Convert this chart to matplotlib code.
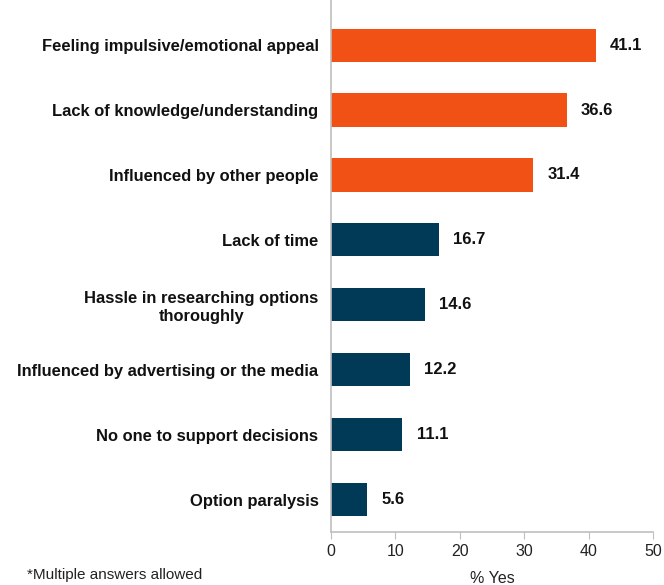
import matplotlib.pyplot as plt

plt.rcParams['font.family'] = ['Liberation Sans', 'DejaVu Sans']

reasons = [
    "Feeling impulsive/emotional appeal",
    "Lack of knowledge/understanding",
    "Influenced by other people",
    "Lack of time",
    "Hassle in researching options\nthoroughly",
    "Influenced by advertising or the media",
    "No one to support decisions",
    "Option paralysis",
]
pct_yes = [41.1, 36.6, 31.4, 16.7, 14.6, 12.2, 11.1, 5.6]
top_three = 3

orange = "#F15114"
navy = "#003A57"
grey = "#BFBFBF"

fig = plt.figure(figsize=(6.64, 5.85), dpi=100)
ax = fig.add_axes([331 / 664, 1 - 532 / 585, 322 / 664, 532 / 585])

ypos = list(range(len(reasons)))
colors = [orange if i < top_three else navy for i in ypos]
ax.barh(ypos, pct_yes, height=0.51, color=colors)

for y, v in zip(ypos, pct_yes):
    ax.text(v + 2.2, y, f"{v:.1f}", va="center", ha="left",
            fontsize=12, fontweight="bold", color="#111111")

# leave a little room above the first bar, the left axis runs to the top
ax.set_ylim(len(reasons) - 0.5, -0.695)
ax.set_xlim(0, 50)
ax.set_xticks([0, 10, 20, 30, 40, 50])
ax.set_yticks(ypos)
ax.set_yticklabels(reasons, fontsize=11.9, fontweight="bold", color="#111111",
                   multialignment="center")
ax.tick_params(axis="y", length=0, pad=9)
ax.tick_params(axis="x", direction="out", length=5, color=grey,
               labelsize=11.5, labelcolor="#222222", pad=4)

for side in ("top", "right"):
    ax.spines[side].set_visible(False)
for side in ("left", "bottom"):
    ax.spines[side].set_color(grey)
    ax.spines[side].set_linewidth(1.2)

ax.set_xlabel("% Yes", fontsize=11.5, color="#222222", labelpad=8)
fig.text(27 / 664, 1 - 575 / 585, "*Multiple answers allowed",
         fontsize=11, color="#222222", va="center", ha="left")

fig.savefig("out.png", dpi=100)
